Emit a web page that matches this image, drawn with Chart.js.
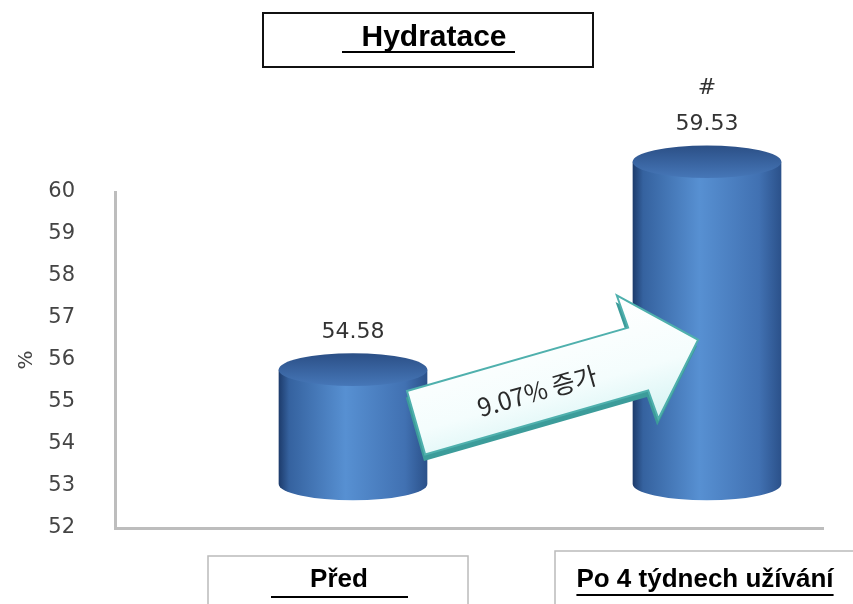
<!DOCTYPE html>
<html>
<head>
<meta charset="utf-8">
<script src="https://cdn.jsdelivr.net/npm/chart.js@4/dist/chart.umd.min.js"></script>
<style>
  html,body{margin:0;padding:0;background:#fff;}
  #wrap{width:853px;height:604px;}
</style>
</head>
<body>
<div id="wrap"><canvas id="grafico" width="853" height="604"></canvas></div>
<script>
const categorias = ['Před', 'Po 4 týdnech užívání'];
const hidratacion = [54.58, 59.53];
const etiquetas = ['54.58', '59.53'];
const marcas = ['', '#'];
const ejeMin = 52, ejeMax = 60, ejePaso = 1;
const titulo = 'Hydratace';
const ejeTitulo = '%';
const textoFlecha = '9.07% 증가';

// desplazamiento "3D" de los cilindros respecto al plano del eje
const DX = 61, DY = -50;

function dibujarCilindro(ctx, cx, top, bottom, w){
  const rx = w/2, ry = w*0.11;
  const left = cx-rx, right = cx+rx;
  // cuerpo
  let g = ctx.createLinearGradient(left,0,right,0);
  g.addColorStop(0,'#1d3b6b');
  g.addColorStop(0.07,'#35629f');
  g.addColorStop(0.45,'#5790d2');
  g.addColorStop(0.85,'#4171b2');
  g.addColorStop(1,'#2b518a');
  ctx.beginPath();
  ctx.moveTo(left, top);
  ctx.lineTo(left, bottom);
  ctx.ellipse(cx, bottom, rx, ry, 0, Math.PI, 0, true);
  ctx.lineTo(right, top);
  ctx.closePath();
  ctx.fillStyle = g;
  ctx.fill();
  // tapa
  g = ctx.createLinearGradient(0,top-ry,0,top+ry);
  g.addColorStop(0,'#2b4f86');
  g.addColorStop(1,'#4677b8');
  ctx.beginPath();
  ctx.ellipse(cx, top, rx, ry, 0, 0, Math.PI*2);
  ctx.fillStyle = g;
  ctx.fill();
}

function dibujarFlecha(ctx){
  ctx.save();
  ctx.translate(407,391);
  ctx.rotate(-16*Math.PI/180);
  const pts = [[0,0],[230,0],[228,-34],[294,31],[234,96],[232,66],[0,66]];
  const trazar = ()=>{
    ctx.beginPath();
    pts.forEach((p,i)=> i ? ctx.lineTo(p[0],p[1]) : ctx.moveTo(p[0],p[1]));
    ctx.closePath();
  };
  // cara lateral
  ctx.save();
  ctx.translate(-3,6);
  trazar();
  ctx.fillStyle = '#3c9c9a';
  ctx.fill();
  ctx.restore();
  // cara frontal
  trazar();
  const g = ctx.createLinearGradient(0,-30,0,90);
  g.addColorStop(0,'#ffffff');
  g.addColorStop(0.6,'#f4fdfd');
  g.addColorStop(1,'#d8f4f4');
  ctx.fillStyle = g;
  ctx.fill();
  ctx.lineWidth = 2;
  ctx.strokeStyle = '#4fb0ad';
  ctx.stroke();
  // texto
  ctx.fillStyle = '#2a2a2a';
  ctx.font = '25px "Noto Sans CJK KR", "DejaVu Sans", sans-serif';
  ctx.textAlign = 'center';
  ctx.textBaseline = 'middle';
  ctx.fillText(textoFlecha, 125, 36);
  ctx.restore();
}

function cajaTexto(ctx, x, y, w, h, borde, ancho){
  ctx.save();
  ctx.strokeStyle = borde;
  ctx.lineWidth = ancho;
  ctx.strokeRect(x, y, w, h);
  ctx.restore();
}

const pluginDecorado = {
  id: 'decorado',
  beforeDraw(chart){
    const ctx = chart.ctx;
    ctx.save();
    ctx.fillStyle = '#fff';
    ctx.fillRect(0,0,chart.width,chart.height);
    ctx.restore();
  },
  afterDatasetsDraw(chart){
    const ctx = chart.ctx;
    const meta = chart.getDatasetMeta(0);
    const base = chart.scales.y.getPixelForValue(ejeMin);
    ctx.save();
    meta.data.forEach((bar,i)=>{
      const cx = bar.x + DX;
      const top = bar.y + DY;
      const bottom = base + DY + 6;
      dibujarCilindro(ctx, cx, top, bottom, bar.width);
      const ry = bar.width*0.11;
      ctx.fillStyle = '#333';
      ctx.font = '22px "DejaVu Sans", sans-serif';
      ctx.textAlign = 'center';
      ctx.textBaseline = 'middle';
      ctx.fillText(etiquetas[i], cx, top - ry - 21);
      if(marcas[i]) ctx.fillText(marcas[i], cx, top - ry - 57);
    });
    dibujarFlecha(ctx);

    // titulo
    cajaTexto(ctx, 263, 13, 330, 54, '#111', 2);
    ctx.fillStyle = '#000';
    ctx.font = 'bold 30px "Liberation Sans", Arial, sans-serif';
    ctx.textAlign = 'center';
    ctx.textBaseline = 'middle';
    ctx.fillText(titulo, 434, 38);
    ctx.fillRect(342, 51, 173, 2);

    // categorias
    cajaTexto(ctx, 208, 556, 260, 60, '#bbb', 1.5);
    cajaTexto(ctx, 555, 551, 300, 60, '#bbb', 1.5);
    ctx.font = 'bold 26px "Liberation Sans", Arial, sans-serif';
    ctx.fillText(categorias[0], 339, 580);
    ctx.fillRect(271, 596, 137, 2);
    ctx.fillText(categorias[1], 705, 580);
    const wt = ctx.measureText(categorias[1]).width;
    ctx.fillRect(705 - wt/2, 594, wt, 2);
    ctx.restore();
  }
};

const ctx = document.getElementById('grafico').getContext('2d');
new Chart(ctx, {
  type: 'bar',
  data: {
    labels: categorias,
    datasets: [{
      label: titulo,
      data: hidratacion,
      backgroundColor: 'rgba(0,0,0,0)',
      borderWidth: 0,
      barPercentage: 0.42,
      categoryPercentage: 1
    }]
  },
  options: {
    responsive: false,
    devicePixelRatio: 1,
    animation: false,
    layout: { padding: { left: 15, right: 30, top: 192, bottom: 76 } },
    plugins: { legend: { display: false }, tooltip: { enabled: false }, title: { display: false } },
    scales: {
      x: {
        ticks: { display: false },
        grid: { display: false, drawTicks: false },
        border: { display: true, color: '#bdbdbd', width: 3 }
      },
      y: {
        min: ejeMin, max: ejeMax,
        ticks: { stepSize: ejePaso, padding: 40, color: '#444', font: { family: 'DejaVu Sans', size: 21 } },
        grid: { display: false, drawTicks: false },
        border: { display: true, color: '#bdbdbd', width: 3 },
        title: { display: true, text: ejeTitulo, color: '#444', padding: 0, font: { family: 'DejaVu Sans', size: 20 } },
        afterFit(s){ s.width = 100; }
      }
    }
  },
  plugins: [pluginDecorado]
});
</script>
</body>
</html>
